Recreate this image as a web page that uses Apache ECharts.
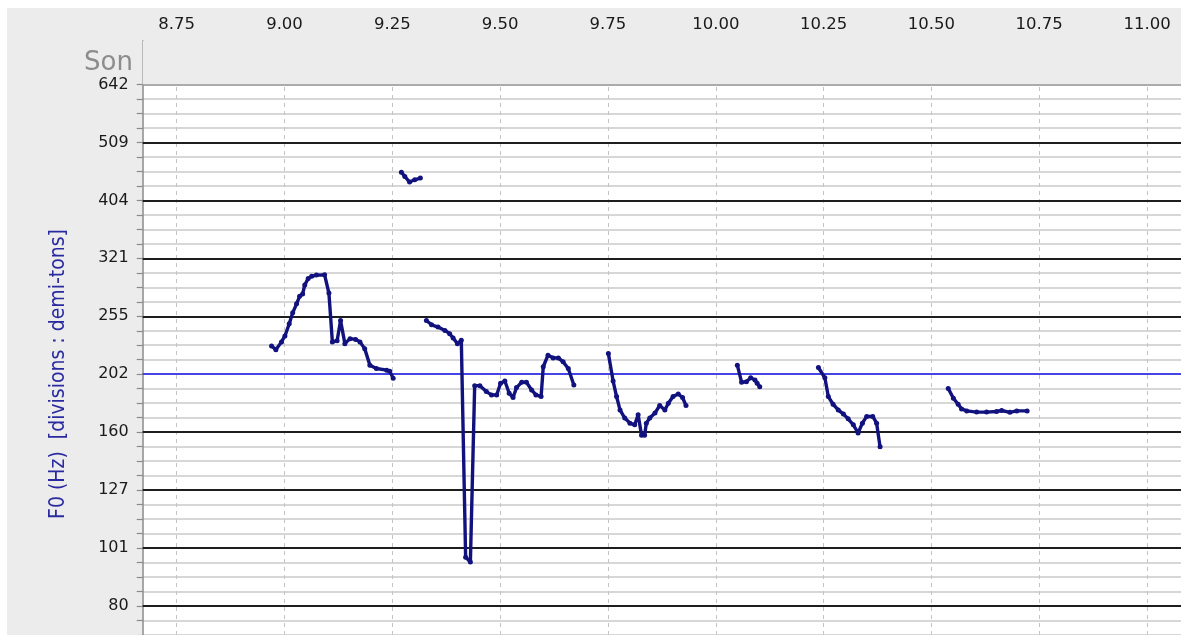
<!DOCTYPE html>
<html><head><meta charset="utf-8">
<script src="https://cdn.jsdelivr.net/npm/echarts@6/dist/echarts.min.js"></script>
<style>
html,body{margin:0;padding:0;background:#fff;width:1181px;height:635px;overflow:hidden}
#c{position:absolute;left:7px;top:8px;width:1174px;height:627px}
</style></head>
<body><div id="c"></div>
<script>
// reference frequency for the semitone scale (blue line)
const REF_HZ = 202;
// y tick labels (Hz), one every 4 semitones starting at -16 semitones from REF_HZ
const yTickLabels = ['80','101','127','160','202','255','321','404','509','642'];
const yLabelFirst = -16;
const yLabelStep = 4;
// x tick values (s)
const xTicks = [8.75, 9.00, 9.25, 9.50, 9.75, 10.00, 10.25, 10.50, 10.75, 11.00];

// F0 contour segments: time (s) and F0 (Hz)
const seg1T  = [8.970, 8.980, 8.993, 9.001, 9.011, 9.019, 9.028, 9.035, 9.042, 9.047, 9.055, 9.063, 9.074, 9.093, 9.103, 9.111, 9.122, 9.130, 9.140, 9.152, 9.165, 9.175, 9.186, 9.198, 9.213, 9.237, 9.244, 9.252];
const seg1Hz = [226.1, 222.8, 229.8, 235.3, 247.0, 258.0, 267.4, 275.6, 278.2, 288.3, 296.0, 298.4, 299.9, 300.2, 279.2, 229.8, 230.9, 250.2, 228.2, 232.8, 232.1, 229.8, 223.7, 209.4, 206.7, 205.3, 204.5, 198.7];
const seg2T  = [9.271, 9.279, 9.290, 9.302, 9.315];
const seg2Hz = [452.1, 444.3, 434.6, 438.5, 441.5];
const seg3T  = [9.329, 9.341, 9.356, 9.372, 9.383, 9.391, 9.401, 9.410, 9.420, 9.431, 9.441, 9.453, 9.468, 9.480, 9.492, 9.501, 9.511, 9.521, 9.530, 9.538, 9.550, 9.561, 9.573, 9.583, 9.595, 9.600, 9.611, 9.623, 9.635, 9.646, 9.658, 9.671];
const seg3Hz = [250.2, 246.0, 243.8, 240.5, 237.4, 233.4, 228.2, 231.2, 97.4, 95.5, 193.0, 193.0, 188.5, 186.0, 186.0, 194.8, 196.6, 187.2, 184.1, 191.5, 195.6, 195.6, 189.7, 186.0, 184.8, 208.1, 217.9, 215.6, 215.6, 212.2, 206.7, 193.5];
const seg4T  = [9.751, 9.762, 9.770, 9.778, 9.789, 9.801, 9.812, 9.820, 9.828, 9.835, 9.839, 9.847, 9.859, 9.870, 9.882, 9.890, 9.901, 9.913, 9.923, 9.931];
const seg4Hz = [219.3, 196.6, 184.8, 175.2, 169.6, 166.2, 165.1, 171.8, 158.3, 158.3, 166.2, 169.6, 173.0, 178.3, 175.2, 179.9, 184.8, 186.7, 184.1, 178.3];
const seg5T  = [10.050, 10.060, 10.071, 10.081, 10.091, 10.096, 10.102];
const seg5Hz = [209.4, 195.6, 196.1, 199.2, 197.3, 194.8, 192.2];
const seg6T  = [10.238, 10.253, 10.261, 10.272, 10.284, 10.296, 10.307, 10.319, 10.330, 10.340, 10.350, 10.364, 10.373, 10.381];
const seg6Hz = [207.5, 199.2, 184.8, 179.2, 175.2, 172.3, 169.1, 165.1, 159.8, 166.2, 170.7, 170.7, 166.2, 151.2];
const seg7T  = [10.539, 10.551, 10.562, 10.570, 10.582, 10.605, 10.628, 10.651, 10.663, 10.682, 10.698, 10.722];
const seg7Hz = [190.9, 183.6, 179.2, 175.9, 174.5, 173.7, 173.7, 174.1, 174.8, 173.5, 174.5, 174.5];

const segments = [[seg1T, seg1Hz], [seg2T, seg2Hz], [seg3T, seg3Hz], [seg4T, seg4Hz], [seg5T, seg5Hz], [seg6T, seg6Hz], [seg7T, seg7Hz]];

const toSemi = hz => 12 * Math.log2(hz / REF_HZ);
const yLabelValues = yTickLabels.map((_, i) => yLabelFirst + i * yLabelStep);
const Y_MIN = -18, Y_MAX = 23;
const BAND = yLabelValues[yLabelValues.length - 1];
const semiTicks = [];
for (let v = Y_MIN; v <= BAND; v++) semiTicks.push(v);

const FONT = '"DejaVu Sans", sans-serif';
const LINE_COLOR = '#12127f';

const contourSeries = segments.map(([t, hz]) => ({
  type: 'line',
  data: t.map((x, i) => [x, toSemi(hz[i])]),
  symbol: 'circle',
  symbolSize: 5,
  showAllSymbol: true,
  lineStyle: { color: LINE_COLOR, width: 3.4 },
  itemStyle: { color: LINE_COLOR },
  z: 10,
  silent: true
}));

const helperSeries = {
  type: 'line',
  data: [],
  silent: true,
  z: 3,
  markArea: {
    silent: true,
    itemStyle: { color: '#ececec' },
    data: [[{ yAxis: BAND }, { yAxis: Y_MAX }]]
  },
  markLine: {
    silent: true,
    symbol: 'none',
    animation: false,
    label: { show: false },
    data: [
      ...xTicks.map(x => [
        { coord: [x, Y_MIN], lineStyle: { color: '#c4c4c4', type: [4, 4], width: 1 } },
        { coord: [x, BAND] }
      ]),
      ...yLabelValues.map(v => ({
        yAxis: v,
        lineStyle: v === BAND ? { color: '#9a9a9a', width: 1.5, type: 'solid' }
                 : v === 0 ? { color: '#2828ff', width: 1.5, type: 'solid' }
                 : { color: '#1e1e1e', width: 1.8, type: 'solid' }
      }))
    ]
  }
};

const chart = echarts.init(document.getElementById('c'), null, { renderer: 'canvas' });
chart.setOption({
  animation: false,
  backgroundColor: '#ececec',
  grid: { left: 135.7, right: 0, top: 33, bottom: -3.5, show: true, backgroundColor: '#ffffff', borderWidth: 0 },
  xAxis: {
    type: 'value',
    position: 'top',
    min: 8.6712,
    max: 11.0788,
    axisLine: { show: true, lineStyle: { color: '#8a8a8a', width: 1.5 } },
    axisTick: { show: true, inside: true, length: 3, customValues: xTicks, lineStyle: { color: '#8a8a8a', width: 1 } },
    axisLabel: { show: true, customValues: xTicks, formatter: v => v.toFixed(2), color: '#1a1a1a', fontFamily: FONT, fontSize: 16.5, margin: 8 },
    splitLine: { show: false }
  },
  yAxis: {
    type: 'value',
    min: Y_MIN,
    max: Y_MAX,
    interval: 1,
    axisLine: { show: true, lineStyle: { color: '#8a8a8a', width: 1.5 } },
    axisTick: { show: true, inside: false, length: 6, customValues: semiTicks, lineStyle: { color: '#8a8a8a', width: 1.2 } },
    axisLabel: {
      show: true, customValues: yLabelValues,
      formatter: v => yTickLabels[Math.round((v - yLabelFirst) / yLabelStep)] || '',
      color: '#1a1a1a', fontFamily: FONT, fontSize: 16, margin: 14
    },
    splitLine: { show: true, lineStyle: { color: '#cacaca', width: 1.6 } }
  },
  graphic: [
    { type: 'text', x: 126, y: 55, silent: true,
      style: { text: 'Son', fill: '#8c8c8c', font: '26px "DejaVu Sans", sans-serif', align: 'right', verticalAlign: 'middle' } },
    { type: 'text', x: 52, y: 366, rotation: Math.PI / 2, silent: true,
      style: { text: 'F0 (Hz)  [divisions : demi-tons]', fill: '#2a2aa0', font: '21px "DejaVu Sans Condensed", "DejaVu Sans", sans-serif', align: 'center', verticalAlign: 'middle' } }
  ],
  series: [helperSeries, ...contourSeries]
});
</script>
</body></html>
